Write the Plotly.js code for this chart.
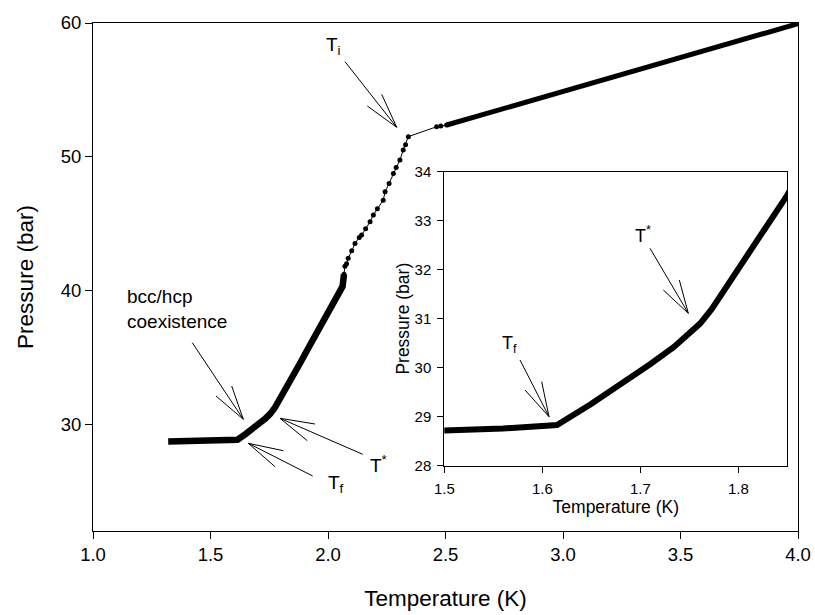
<!DOCTYPE html>
<html>
<head>
<meta charset="utf-8">
<script src="https://cdn.plot.ly/plotly-3.0.1.min.js"></script>
<style>html,body{margin:0;padding:0;background:#fff;}#chart{width:815px;height:615px;}</style>
</head>
<body>
<div id="chart"></div>
<script>
// ---- data ----
// dense low-temperature branch (bcc/hcp coexistence and hcp melting)
const lowT = [1.32, 1.40, 1.50, 1.56, 1.615, 1.649, 1.683, 1.710, 1.734, 1.754, 1.761, 1.773, 1.802, 1.826, 1.849, 1.881, 1.920, 1.952, 2.001, 2.023, 2.045, 2.062, 2.068];
const lowP = [28.70, 28.71, 28.72, 28.76, 28.83, 29.25, 29.69, 30.07, 30.42, 30.76, 30.90, 31.20, 32.10, 32.80, 33.49, 34.55, 35.80, 36.85, 38.45, 39.20, 39.85, 40.30, 41.20];
// sparse points up to T_i
const midT = [2.068, 2.072, 2.079, 2.086, 2.101, 2.115, 2.133, 2.143, 2.160, 2.179, 2.193, 2.210, 2.235, 2.243, 2.260, 2.278, 2.290, 2.306, 2.320, 2.330, 2.342, 2.462, 2.480, 2.505];
const midP = [41.20, 41.80, 42.00, 42.40, 42.96, 43.50, 43.96, 44.14, 44.60, 45.13, 45.63, 46.10, 46.75, 47.37, 48.00, 48.75, 49.20, 49.75, 50.50, 50.90, 51.50, 52.24, 52.30, 52.37];
// dense high-temperature branch
const highT = [2.505, 2.753, 3.000, 3.236, 3.500, 3.750, 4.000];
const highP = [52.37, 53.62, 54.87, 56.07, 57.40, 58.67, 59.95];

const mainXTicks = [1.0, 1.5, 2.0, 2.5, 3.0, 3.5, 4.0];
const mainXLabels = ["1.0", "1.5", "2.0", "2.5", "3.0", "3.5", "4.0"];
const mainYTicks = [30, 40, 50, 60];
const insetXTicks = [1.5, 1.6, 1.7, 1.8];
const insetXLabels = ["1.5", "1.6", "1.7", "1.8"];
const insetYTicks = [28, 29, 30, 31, 32, 33, 34];

// ---- layout geometry ----
const W = 815, H = 615;
const L = 93, R = 798, T = 23, B = 531;
const xr = [1, 4], yr = [22, 60];
function px2x(px) { return xr[0] + (px - L) / (R - L) * (xr[1] - xr[0]); }
function py2y(py) { return yr[0] + (B - py) / (B - T) * (yr[1] - yr[0]); }

// inset box in pixels
const iL = 444.3, iR = 787.3, iT = 171.7, iB = 465.7;

const FONT = "Liberation Sans, Arial, Helvetica, sans-serif";

// arrows: [tail, tip, barb1, barb2] in pixels
const arrows = [
  [[345, 61.7], [396.7, 127.3], [381.7, 94.3], [367.3, 106]],       // T_i
  [[192.3, 342.7], [243.3, 419.3], [231.7, 386], [216, 396]],       // coexistence
  [[312.7, 476], [248.3, 443.3], [283.3, 450.7], [275, 466.7]],     // T_f main
  [[362.7, 454.3], [280, 418.3], [315, 424], [307.3, 440.7]],       // T* main
  [[650, 248.3], [688.3, 313.3], [679.3, 280], [663.3, 290]],       // T* inset
  [[520, 360], [549, 416.7], [541.7, 381.7], [525, 390]]            // T_f inset
];
const shapes = [];
function seg(a, b) {
  shapes.push({type: 'line', xref: 'x', yref: 'y',
    x0: px2x(a[0]), y0: py2y(a[1]), x1: px2x(b[0]), y1: py2y(b[1]),
    line: {color: 'black', width: 1}});
}
arrows.forEach(a => { seg(a[0], a[1]); seg(a[1], a[2]); seg(a[1], a[3]); });

function ann(text, pxl, py, yanchor, size) {
  return {text: text, xref: 'x', yref: 'y', x: px2x(pxl), y: py2y(py),
    xanchor: 'left', yanchor: yanchor, showarrow: false, align: 'left',
    font: {family: FONT, size: size, color: 'black'}};
}
const annotations = [
  ann('T<sub>i</sub>', 323.5, 31.5, 'top', 19),
  ann('bcc/hcp<br>coexistence', 124.5, 284, 'top', 19),
  ann('T<sub>f</sub>', 325.5, 469.5, 'top', 19),
  ann('T<sup>*</sup>', 367.5, 478, 'bottom', 19),
  ann('T<sup>*</sup>', 632.5, 248, 'bottom', 18),
  ann('T<sub>f</sub>', 499.5, 330.5, 'top', 18)
];

const traces = [
  {x: lowT, y: lowP, mode: 'lines', line: {color: 'black', width: 6.5}, xaxis: 'x', yaxis: 'y', hoverinfo: 'skip'},
  {x: midT, y: midP, mode: 'lines+markers', line: {color: 'black', width: 1}, marker: {color: 'black', size: 5}, xaxis: 'x', yaxis: 'y', hoverinfo: 'skip'},
  {x: highT, y: highP, mode: 'lines', line: {color: 'black', width: 5}, xaxis: 'x', yaxis: 'y', hoverinfo: 'skip'},
  {x: lowT, y: lowP, mode: 'lines', line: {color: 'black', width: 6}, xaxis: 'x2', yaxis: 'y2', hoverinfo: 'skip'}
];

const axCommon = {showgrid: false, zeroline: false, showline: true, linecolor: 'black', linewidth: 1,
  ticks: 'outside', tickcolor: 'black', tickwidth: 1};

const layout = {
  width: W, height: H,
  margin: {l: L, r: W - R, t: T, b: H - B, pad: 0},
  paper_bgcolor: 'white', plot_bgcolor: 'white',
  showlegend: false,
  font: {family: FONT, color: 'black'},
  xaxis: Object.assign({}, axCommon, {
    range: xr, tickvals: mainXTicks, ticktext: mainXLabels, ticklen: 7, mirror: true,
    tickfont: {family: FONT, size: 18.5}, ticklabelstandoff: 0,
    title: {text: 'Temperature (K)', font: {family: FONT, size: 22.5}, standoff: 26}
  }),
  yaxis: Object.assign({}, axCommon, {
    range: yr, tickvals: mainYTicks, ticklen: 7, mirror: true,
    tickfont: {family: FONT, size: 18.5}, ticklabelstandoff: 5.5,
    title: {text: 'Pressure (bar)', font: {family: FONT, size: 22.5}, standoff: 20}
  }),
  xaxis2: Object.assign({}, axCommon, {
    domain: [(iL - L) / (R - L), (iR - L) / (R - L)], anchor: 'y2',
    range: [1.5, 1.85], tickvals: insetXTicks, ticktext: insetXLabels, ticklen: 6, mirror: true,
    tickfont: {family: FONT, size: 15}, ticklabelstandoff: 3,
    title: {text: 'Temperature (K)', font: {family: FONT, size: 17.5}, standoff: 1}
  }),
  yaxis2: Object.assign({}, axCommon, {
    domain: [(B - iB) / (B - T), (B - iT) / (B - T)], anchor: 'x2',
    range: [28, 34], tickvals: insetYTicks, ticklen: 6, mirror: true,
    tickfont: {family: FONT, size: 15}, ticklabelstandoff: 3,
    title: {text: 'Pressure (bar)', font: {family: FONT, size: 17.5}, standoff: 0}
  }),
  shapes: shapes,
  annotations: annotations
};

Plotly.newPlot('chart', traces, layout, {staticPlot: true, displayModeBar: false});
</script>
</body>
</html>
